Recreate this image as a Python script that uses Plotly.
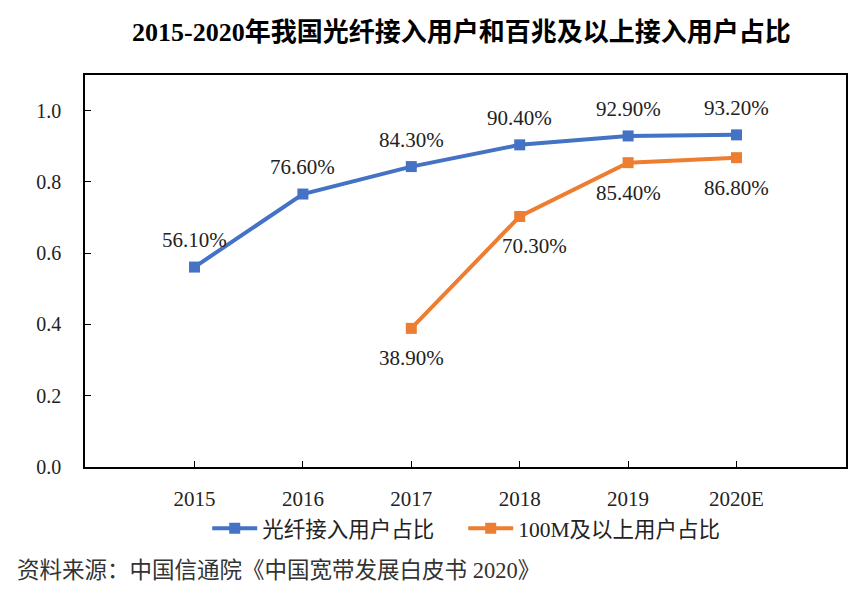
import plotly.graph_objects as go

# data
years = ['2015', '2016', '2017', '2018', '2019', '2020E']
fiber_share = [0.561, 0.766, 0.843, 0.904, 0.929, 0.932]
years_100m = ['2017', '2018', '2019', '2020E']
share_100m = [0.389, 0.703, 0.854, 0.868]
y_ticks = [0.0, 0.2, 0.4, 0.6, 0.8, 1.0]

blue = '#4472C4'
orange = '#ED7D31'
font_main = 'Liberation Serif, Noto Sans CJK SC, serif'

fig = go.Figure()

fig.add_trace(go.Scatter(
    x=years, y=fiber_share, name='光纤接入用户占比',
    mode='lines+markers',
    line=dict(color=blue, width=4),
    marker=dict(symbol='square', size=11, color=blue),
))
fig.add_trace(go.Scatter(
    x=years_100m, y=share_100m, name='100M及以上用户占比',
    mode='lines+markers',
    line=dict(color=orange, width=4),
    marker=dict(symbol='square', size=11, color=orange),
))

# data labels: blue above, orange below (x as category index)
for x, y in zip(years, fiber_share):
    fig.add_annotation(x=years.index(x), y=y, text='{:.2f}%'.format(y * 100),
                       showarrow=False, yshift=27,
                       font=dict(size=21, color='#222222', family=font_main))
orange_xshift = [0, 15, 0, 0]
for x, y, dx in zip(years_100m, share_100m, orange_xshift):
    fig.add_annotation(x=years.index(x), y=y, text='{:.2f}%'.format(y * 100),
                       showarrow=False, yshift=-30, xshift=dx,
                       font=dict(size=21, color='#222222', family=font_main))

# source note, kept inside the bottom edge of the figure
fig.add_annotation(
    text='资料来源：中国信通院《中国宽带发展白皮书 2020》',
    xref='paper', yref='paper', x=-0.092, y=-0.302,
    xanchor='left', yanchor='bottom', showarrow=False,
    font=dict(size=22.5, color='#333333', family=font_main),
)

fig.update_layout(
    width=849, height=578,
    margin=dict(l=77, r=9, t=67, b=119),
    paper_bgcolor='white',
    plot_bgcolor='white',
    title=dict(
        text='<b>2015-2020年我国光纤接入用户和百兆及以上接入用户占比</b>',
        x=0.534, xanchor='center', y=0.958, yanchor='middle',
        font=dict(size=26, color='black', family=font_main),
    ),
    showlegend=True,
    legend=dict(
        orientation='h', x=0.497, xanchor='center', y=-0.156, yanchor='middle',
        font=dict(size=21.5, color='#222222', family=font_main),
        itemwidth=45,
        entrywidth=196,
    ),
    xaxis=dict(
        type='category',
        categoryorder='array', categoryarray=years,
        range=[-1.01, 6.01],
        showline=True, linecolor='black', linewidth=1.5, mirror=True,
        ticks='inside', ticklen=6, tickcolor='black',
        showgrid=False, zeroline=False,
        ticklabelstandoff=12,
        tickfont=dict(size=21, color='#222222', family=font_main),
    ),
    yaxis=dict(
        range=[0, 1.1],
        tickvals=y_ticks, tickformat='.1f',
        showline=True, linecolor='black', linewidth=1.5, mirror=True,
        ticks='inside', ticklen=6, tickcolor='black',
        showgrid=False, zeroline=False,
        ticklabelstandoff=18,
        tickfont=dict(size=20, color='#222222', family=font_main),
    ),
)

fig.write_html('out.html')
